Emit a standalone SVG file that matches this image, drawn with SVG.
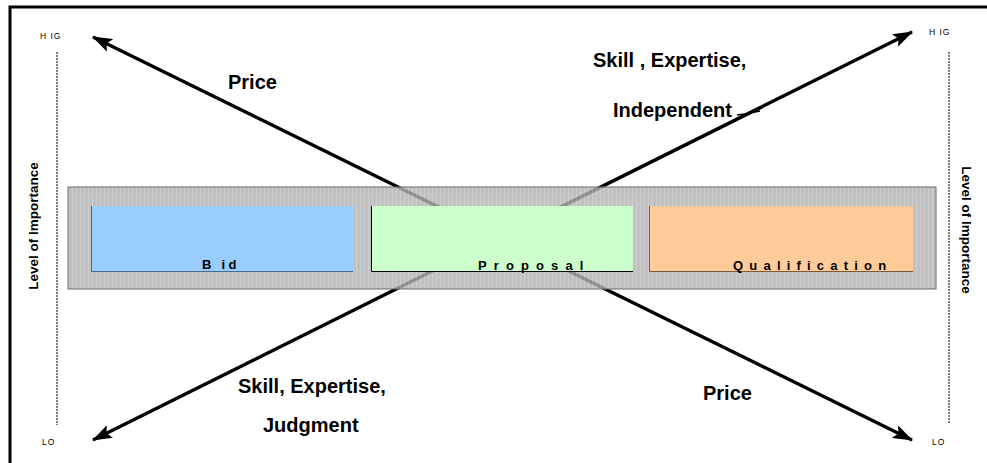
<svg xmlns="http://www.w3.org/2000/svg" width="987" height="463" viewBox="0 0 987 463">
<style>
.big{font-family:"Liberation Sans",Arial,sans-serif;font-weight:bold;font-size:20px;fill:#000}
.box{font-family:"Liberation Sans",Arial,sans-serif;font-weight:bold;font-size:13px;fill:#000}
.axis{font-family:"Liberation Sans",Arial,sans-serif;font-weight:bold;font-size:13.5px;fill:#000}
.tick{font-family:"Liberation Sans",Arial,sans-serif;font-size:8.5px;fill:#000;letter-spacing:1px}
.conn{stroke:#000;stroke-width:3.4;fill:none}
.dash{stroke:#555;stroke-width:1.5;stroke-dasharray:2 1;fill:none}
</style>
<defs>
<marker id="ah" viewBox="0 0 20 14" refX="19" refY="7" markerWidth="20" markerHeight="14" markerUnits="userSpaceOnUse" orient="auto-start-reverse">
<path d="M0,0 L20,7 L0,14 L4,7 z" fill="#000"/>
</marker>
<pattern id="tex" width="4" height="4" patternUnits="userSpaceOnUse">
<rect width="4" height="4" fill="#b4b4b4"/>
<rect x="0" y="0" width="1" height="4" fill="#c0c0c0"/>
<rect x="2" y="0" width="1" height="4" fill="#acacac"/>
</pattern>
</defs>
<rect width="987" height="463" fill="#fff"/>
<path d="M10,463 V7 H987" stroke="#000" stroke-width="3" fill="none"/>
<g id="axis-left">
<line class="dash" x1="57" y1="52" x2="57" y2="425"/>
<text class="tick" x="40" y="39">H IG</text>
<text class="tick" x="42" y="445">LO</text>
<text class="axis" transform="translate(38,226) rotate(-90)" text-anchor="middle">Level of Importance</text>
</g>
<g id="axis-right">
<line class="dash" x1="949" y1="52" x2="949" y2="423"/>
<text class="tick" x="929" y="35">H IG</text>
<text class="tick" x="932" y="445">LO</text>
<text class="axis" transform="translate(962,230) rotate(90)" text-anchor="middle">Level of Importance</text>
</g>
<g id="connectors">
<line class="conn" x1="93" y1="37" x2="912" y2="440" marker-start="url(#ah)" marker-end="url(#ah)"/>
<line class="conn" x1="93" y1="440" x2="912" y2="32" marker-start="url(#ah)" marker-end="url(#ah)"/>
<path d="M737,115 L745,114 L760,111" stroke="#000" stroke-width="1.5" fill="none"/>
</g>
<g id="band">
<rect x="68" y="187" width="868" height="102" fill="url(#tex)" fill-opacity="0.8" stroke="#6a6a6a" stroke-width="1"/>
</g>
<g id="bid">
<rect x="91" y="206" width="262" height="66" fill="#99ccff"/>
<path d="M91.5,206 V271.5 H353" stroke="#4a6a8a" stroke-width="1" fill="none"/>
<text class="box" x="202" y="269" letter-spacing="3.3">B id</text>
</g>
<g id="proposal">
<rect x="371" y="206" width="262" height="66" fill="#ccffcc"/>
<path d="M371.5,206 V271.5 H633" stroke="#000" stroke-width="1" fill="none"/>
<text class="box" x="478" y="270" letter-spacing="7.1">Proposal</text>
</g>
<g id="qualification">
<rect x="649" y="206" width="264" height="66" fill="#ffcc99"/>
<path d="M649.5,206 V271.5 H913" stroke="#7a5a3a" stroke-width="1" fill="none"/>
<text class="box" x="733" y="270" letter-spacing="6.2">Qualification</text>
</g>
<g id="labels">
<text class="big" x="228" y="89">Price</text>
<text class="big" x="593" y="67">Skill , Expertise,</text>
<text class="big" x="613" y="117">Independent</text>
<text class="big" x="238" y="393">Skill, Expertise,</text>
<text class="big" x="263" y="432">Judgment</text>
<text class="big" x="703" y="400">Price</text>
</g>
</svg>
